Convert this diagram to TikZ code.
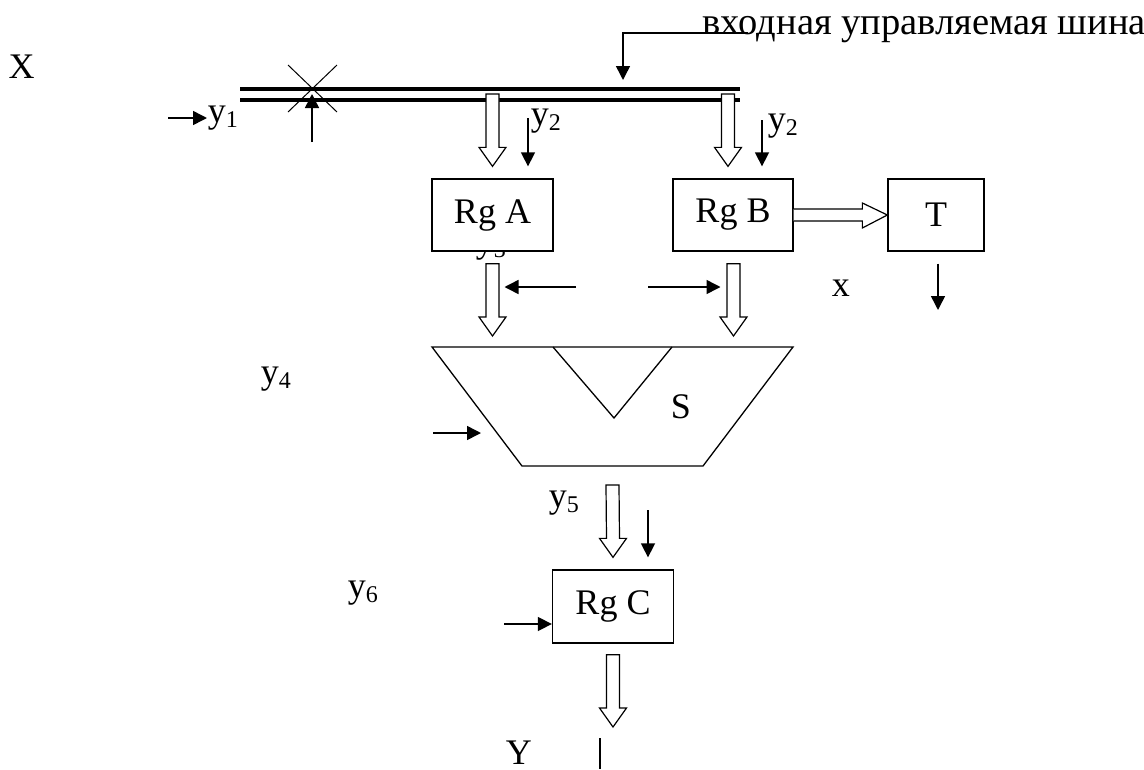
\documentclass[tikz,border=0pt]{standalone}
\usepackage{fontspec}
\setmainfont{Liberation Serif}
\usetikzlibrary{arrows.meta, positioning, calc}

% y with a lowered small index
\newcommand{\ysub}[1]{y\raisebox{-5pt}{\fontsize{24}{24}\selectfont #1}}
% hollow (bus) arrow going straight down from #1 to the tip #2
\newcommand{\fatdown}[2]{%
    \draw[fill=white, line width=1.2pt, line join=miter]
        ($#1+(-6.5,0)$) -- ($#1+(6.5,0)$) -- ($#2+(6.5,-19)$) -- ($#2+(13.5,-19)$)
        -- #2 -- ($#2+(-13.5,-19)$) -- ($#2+(-6.5,-19)$) -- cycle;}

\begin{document}
\begin{tikzpicture}[
    x=1pt, y=-1pt,
    font=\fontsize{36}{40}\selectfont,
    >={Triangle[length=14pt, width=14pt]},
    line width=1.5pt,
    box/.style={draw, fill=white, line width=1.3pt, minimum width=121pt,
        minimum height=72pt, inner sep=0pt},
    lbl/.style={inner sep=0pt, anchor=base west}
]
    % fixed canvas, pixel units (y runs downwards)
    \path[use as bounding box] (0,0) rectangle (1144,769);

    % ==========================================
    % input bus
    % ==========================================
    \node[lbl] (xin) at (8,78) {X};

    \coordinate (busL) at (240,89);
    \coordinate (busR) at (740,89);
    \draw[line width=4.7pt] (busL) -- (busR);
    \draw[line width=4.7pt] ($(busL)+(0,11)$) -- ($(busR)+(0,11)$);

    % controlled bus: caption and arrow
    \node[lbl, font=\fontsize{38.5}{40}\selectfont] (bustxt) at (702,34) {входная управляемая шина};
    \coordinate (busin) at (623,80);
    \draw[->] ($(bustxt.base west)+(46,-1)$) -| (busin);

    % y1 and the gate on the bus
    \node[lbl] (y1) at (207,122) {\ysub{1}};
    \coordinate (y1s) at (168,118);
    \draw[->] (y1s) -- (y1.west |- y1s);

    \coordinate (lock) at (312,89);
    \draw[line width=1pt] ($(lock)+(-24,-24)$) -- ($(lock)+(25,23)$);
    \draw[line width=1pt] ($(lock)+(25,-24)$) -- ($(lock)+(-24,23)$);
    \coordinate (locks) at (312,142);
    \draw[->] (locks) -- ($(lock)+(0,5)$);

    % ==========================================
    % registers A, B and T
    % ==========================================
    \node[lbl] (y3) at (475,252) {\ysub{3}};
    \node[box] (rga) at (492.5,215) {Rg A};
    \node[box, minimum width=120pt] (rgb) at (733,215) {Rg B};
    \node[box, minimum width=96pt] (t) at (936,215) {T};

    % bus -> Rg A, Rg B
    \coordinate (tapA) at (492.5,94);
    \coordinate (tapB) at (728,94);
    \coordinate (tipA) at ($(rga.north)+(0,-12)$);
    \coordinate (tipB) at ($(tapB |- rgb.north)+(0,-12)$);
    \fatdown{(tapA)}{(tipA)}
    \fatdown{(tapB)}{(tipB)}

    % y2 strobes
    \node[lbl] (y2a) at (530,125) {\ysub{2}};
    \coordinate (y2as) at (528,118);
    \draw[->] (y2as) -- (y2as |- tipA);
    \node[lbl] (y2b) at (767,130) {\ysub{2}};
    \coordinate (y2bs) at (762,120);
    \draw[->] (y2bs) -- (y2bs |- tipB);

    % Rg B -> T
    \draw[fill=white, line width=1.2pt]
        ($(rgb.east)+(0,-6)$) -- ($(t.west)+(-25,-6)$) -- ($(t.west)+(-25,-12)$)
        -- (t.west) -- ($(t.west)+(-25,13)$) -- ($(t.west)+(-25,6)$)
        -- ($(rgb.east)+(0,6)$);

    \node[lbl] (xlbl) at (831,296) {x};
    \coordinate (tout) at (938,310);
    \draw[->] ($(t.south)+(2,12)$) -- (tout);

    % ==========================================
    % adder S
    % ==========================================
    \coordinate (s1) at (432,347);
    \coordinate (s2) at (793,347);
    \coordinate (s3) at (703,466);
    \coordinate (s4) at (522,466);
    \coordinate (v1) at (553,347);
    \coordinate (v2) at (614,418);
    \coordinate (v3) at (672,347);
    \draw[line width=1.3pt] (s1) -- (s2) -- (s3) -- (s4) -- cycle;
    \draw[line width=1.3pt] (v1) -- (v2) -- (v3);
    \node (s) at (681,407) {S};

    % Rg A, Rg B -> S
    \coordinate (sa) at ($(rga.south)+(0,12)$);
    \coordinate (sb) at ($(rgb.south)+(0.5,12)$);
    \coordinate (sat) at ($(sa |- s1)+(0,-11)$);
    \coordinate (sbt) at ($(sb |- s1)+(0,-11)$);
    \fatdown{(sa)}{(sat)}
    \fatdown{(sb)}{(sbt)}

    \coordinate (y3l) at (576,287);
    \coordinate (y3r) at (648,287);
    \draw[->] (y3l) -- ($(sa |- y3l)+(12,0)$);
    \draw[->] (y3r) -- ($(sb |- y3r)+(-13,0)$);

    \node[lbl] (y4) at (260,383) {\ysub{4}};
    \coordinate (y4s) at (433,433);
    \coordinate (y4e) at (481,433);
    \draw[->] (y4s) -- (y4e);

    % ==========================================
    % register C and output
    % ==========================================
    \node[box, minimum height=73pt] (rgc) at (613,606.5) {Rg C};

    \coordinate (sc) at ($(s4)!0.5!(s3)+(0,19)$);
    \coordinate (tipC) at ($(rgc.north)+(0,-12)$);
    \fatdown{(sc)}{(tipC)}

    \node[lbl] (y5) at (548,507) {\ysub{5}};
    \coordinate (y5s) at (648,510);
    \draw[->] (y5s) -- (y5s |- tipC);

    \node[lbl] (y6) at (347,597) {\ysub{6}};
    \coordinate (y6s) at (504,624);
    \draw[->] (y6s) -- (rgc.west |- y6s);

    \coordinate (cout) at ($(rgc.south)+(0,11)$);
    \coordinate (ctip) at (613,727);
    \fatdown{(cout)}{(ctip)}

    \node[lbl] (ylbl) at (505,764) {Y};
    \coordinate (yl1) at (600,738);
    \coordinate (yl2) at (600,769);
    \draw (yl1) -- (yl2);

\end{tikzpicture}
\end{document}
